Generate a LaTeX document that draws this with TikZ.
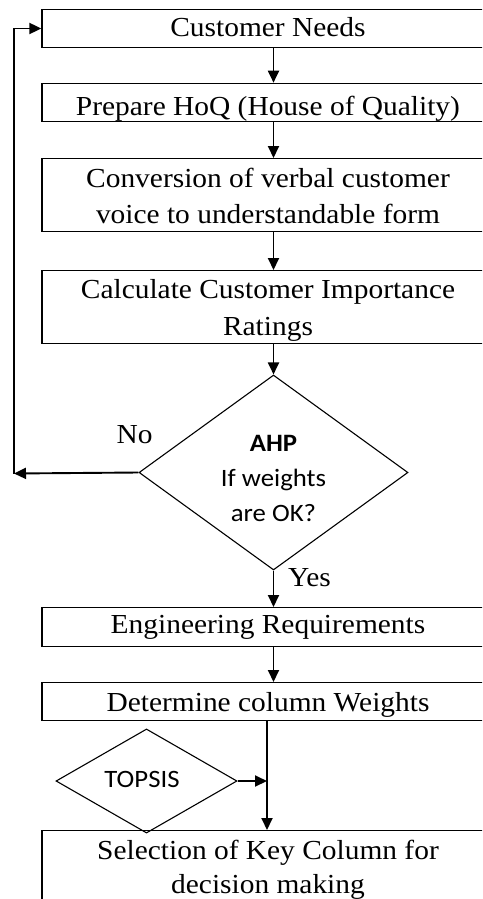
\documentclass[tikz,border=0pt]{standalone}
\usepackage{fontspec}
\setmainfont{Liberation Serif}[FakeStretch=1.07]
\newfontfamily\calibrifont{Carlito}[FakeStretch=1.07]
\usetikzlibrary{shapes.geometric,arrows.meta,calc}
\newcommand\mlines[2]{\vtop{\baselineskip=#1\relax\lineskiplimit=-100pt\halign{\hfil##\hfil\cr #2\crcr}}}
\tikzset{
  box/.style={draw, line width=1.3pt, inner xsep=0pt, inner ysep=0pt,
    minimum width=452pt, anchor=north, font=\fontsize{27.5}{33}\selectfont},
  flow/.style={line width=1.9pt, -{Triangle[width=11pt,length=12pt]}},
  dec/.style={diamond, draw, line width=1.1pt, inner sep=0pt,
    font=\calibrifont\fontsize{25}{30}\selectfont},
  lbl/.style={anchor=base, inner sep=0pt, font=\fontsize{27.5}{33}\selectfont}
}
\begin{document}
\begin{tikzpicture}[x=1pt,y=-1pt]
\clip (0,0) rectangle (482,899);
\fill[white] (0,0) rectangle (482,899);
\coordinate (ax) at (273.5,0);
\coordinate (bx) at (267,0);
\coordinate (lb) at (14,473.5);

\node[box, text height=26.7pt, text depth=11pt] (cn) at (268,9) {Customer Needs};
\node[box, text height=32.3pt, text depth=5.7pt] (hoq) at (268,82.7) {Prepare HoQ (House of Quality)};
\node[box, text height=29pt, text depth=44pt] (conv) at (268,158)
  {\mlines{36pt}{Conversion of verbal customer\cr voice to understandable form}};
\node[box, text height=28pt, text depth=45pt] (calc) at (268,270)
  {\mlines{37pt}{Calculate Customer Importance\cr Ratings}};
\node[dec, minimum width=269pt, minimum height=195pt, text height=20pt, text depth=61.6pt] (ahp) at (273.5,472.5)
  {\mlines{35pt}{\textbf{AHP}\cr If weights\cr are OK?}};
\node[box, text height=26.3pt, text depth=12.7pt] (eng) at (268,607) {Engineering Requirements};
\node[box, text height=28.7pt, text depth=9.3pt] (det) at (268,682) {Determine column Weights};
\node[box, text height=28.5pt, text depth=70pt] (sel) at (268,830)
  {\mlines{34pt}{Selection of Key Column for\cr decision making}};
\node[dec, minimum width=181pt, minimum height=92pt, text height=16pt, text depth=4pt] (topsis) at (146.5,781)
  {TOPSIS\hspace*{9pt}};

\node[lbl] (no) at (134.5,443.3) {No};
\node[lbl] (yes) at (309.5,586.7) {Yes};

\draw[flow] (cn.south -| ax) -- (hoq.north -| ax);
\draw[flow] (hoq.south -| ax) -- (conv.north -| ax);
\draw[flow] (conv.south -| ax) -- (calc.north -| ax);
\draw[flow] (calc.south -| ahp.north) -- (ahp.north);
\draw[flow] (ahp.south) -- (eng.north -| ahp.south);
\draw[flow] (eng.south -| ax) -- (det.north -| ax);
\draw[flow] (det.south -| bx) -- (sel.north -| bx);
\draw[flow] (topsis.east) -- (topsis.east -| bx);
\draw[flow] (ahp.west) -- (lb);
\draw[flow] (lb) |- (cn.west);
\end{tikzpicture}
\end{document}
